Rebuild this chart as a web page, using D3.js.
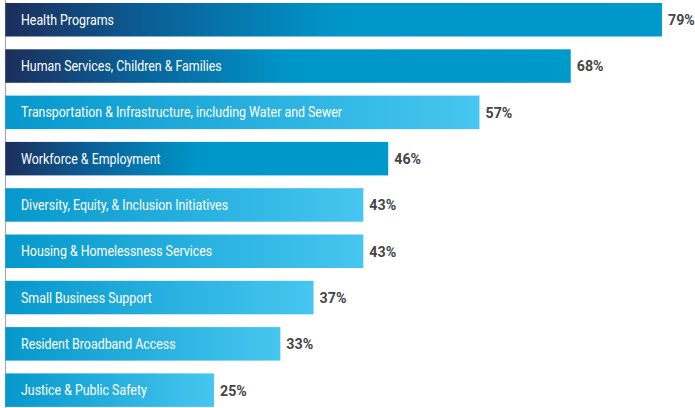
<!DOCTYPE html>
<html>
<head>
<meta charset="utf-8">
<script src="https://cdn.jsdelivr.net/npm/d3@7"></script>
<style>
  html, body { margin: 0; padding: 0; background: #fff; }
  svg { display: block; }
</style>
</head>
<body>
<div id="chart"></div>
<script>
const categories = [
  "Health Programs",
  "Human Services, Children & Families",
  "Transportation & Infrastructure, including Water and Sewer",
  "Workforce & Employment",
  "Diversity, Equity, & Inclusion Initiatives",
  "Housing & Homelessness Services",
  "Small Business Support",
  "Resident Broadband Access",
  "Justice & Public Safety"
];
const values = [79, 68, 57, 46, 43, 43, 37, 33, 25];
const styles = ["dark", "dark", "light", "dark", "light", "light", "light", "light", "light"];

const W = 695, H = 408;
const svg = d3.select("#chart").append("svg").attr("width", W).attr("height", H);

const defs = svg.append("defs");
const dark = defs.append("linearGradient").attr("id", "g-dark")
  .attr("x1", "0%").attr("x2", "100%").attr("y1", "0%").attr("y2", "0%");
dark.append("stop").attr("offset", "0%").attr("stop-color", "#1c2e5c");
dark.append("stop").attr("offset", "22%").attr("stop-color", "#0a5f97");
dark.append("stop").attr("offset", "50%").attr("stop-color", "#0095c8");
dark.append("stop").attr("offset", "100%").attr("stop-color", "#0099cc");
const light = defs.append("linearGradient").attr("id", "g-light")
  .attr("x1", "0%").attr("x2", "100%").attr("y1", "0%").attr("y2", "0%");
light.append("stop").attr("offset", "0%").attr("stop-color", "#0698cc");
light.append("stop").attr("offset", "100%").attr("stop-color", "#46c6f0");

const x = d3.scaleLinear().domain([0, 100]).range([6.6, 836.2]);
const y = d3.scaleBand().domain(categories).range([3, 3 + 46.3 * 8 + 33.5])
  .paddingInner(12.8 / 46.3).paddingOuter(0);

// axis line
svg.append("line")
  .attr("x1", 5.5).attr("x2", 5.5).attr("y1", 0).attr("y2", H)
  .attr("stroke", "#a8a8a8").attr("stroke-width", 1.2);

const g = svg.append("g");
const rows = g.selectAll("g.row").data(categories).join("g").attr("class", "row");

rows.append("rect")
  .attr("x", x(0) - 1.3)
  .attr("y", d => y(d))
  .attr("width", (d, i) => x(values[i]) - x(0) + 1.3)
  .attr("height", y.bandwidth())
  .attr("fill", (d, i) => styles[i] === "dark" ? "url(#g-dark)" : "url(#g-light)");

const labelScale = 0.885;
rows.append("text")
  .attr("transform", d => `translate(21,${y(d) + y.bandwidth() / 2}) scale(${labelScale},1)`)
  .attr("dy", "0.36em")
  .attr("fill", "#ffffff")
  .attr("font-family", "Roboto, sans-serif")
  .attr("font-size", "14px")
  .text(d => d);

const valueScale = 0.95;
rows.append("text")
  .attr("transform", (d, i) => `translate(${x(values[i]) + 6},${y(d) + y.bandwidth() / 2}) scale(${valueScale},1)`)
  .attr("dy", "0.36em")
  .attr("fill", "#454545")
  .attr("font-family", "Roboto, sans-serif")
  .attr("font-weight", "bold")
  .attr("font-size", "15px")
  .text((d, i) => values[i] + "%");
</script>
</body>
</html>
